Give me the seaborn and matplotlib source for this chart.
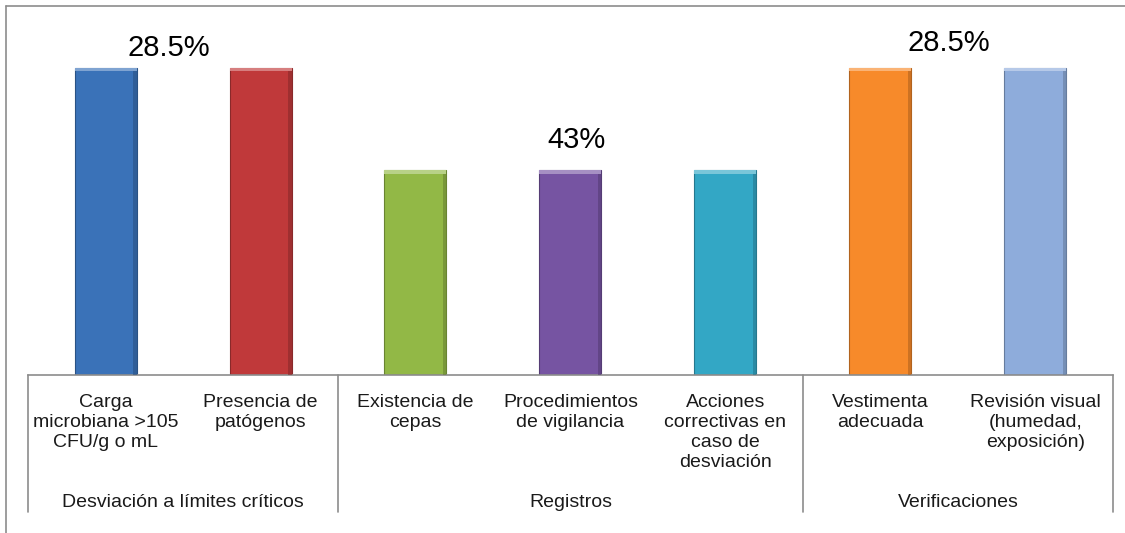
import matplotlib
matplotlib.use("Agg")
import matplotlib.pyplot as plt
import matplotlib.transforms as mtransforms
from matplotlib.patches import Rectangle
import seaborn as sns
import pandas as pd
import numpy as np
import matplotlib.colors as mcolors

categories = [
    "Carga\nmicrobiana >105\nCFU/g o mL",
    "Presencia de\npatógenos",
    "Existencia de\ncepas",
    "Procedimientos\nde vigilancia",
    "Acciones\ncorrectivas en\ncaso de\ndesviación",
    "Vestimenta\nadecuada",
    "Revisión visual\n(humedad,\nexposición)",
]
values = [3, 3, 2, 2, 2, 3, 3]
groups = ["Desviación a límites críticos", "Registros", "Verificaciones"]
group_sizes = [2, 3, 2]
labels_text = ["28.5%", "43%", "28.5%"]
label_x = [0.41, 3.04, 5.44]
label_y = [3.19, 2.29, 3.24]
colors = ["#3a72b8", "#c0393a", "#92b846", "#7654a2", "#33a7c5", "#f78a2a", "#8eacdb"]

sns.set_theme(style="white")
plt.rcParams['font.family'] = ['Liberation Sans', 'DejaVu Sans']

df = pd.DataFrame({"cat": categories, "val": values})

fig = plt.figure(figsize=(11.25, 5.33), dpi=100)
ax = fig.add_axes([0.0249, 0.2964, 0.9644, 0.6725])

sns.barplot(data=df, x="cat", y="val", hue="cat", palette=colors, legend=False,
            width=0.4, ax=ax, saturation=1, edgecolor="none")

ax.set_ylim(0, 3.5)
ax.set_xlim(-0.5, len(categories) - 0.5)

# bevel-like shading on bars
for p, c in zip(ax.patches, colors):
    x0, w, h = p.get_x(), p.get_width(), p.get_height()
    rgb = np.array(mcolors.to_rgb(c))
    dark = tuple(rgb * 0.72)
    light = tuple(np.clip(rgb + (1 - rgb) * 0.35, 0, 1))
    p.set_edgecolor(dark)
    p.set_linewidth(0.8)
    ax.add_patch(Rectangle((x0, h - 0.035), w, 0.035, facecolor=light, edgecolor="none", zorder=3))
    ax.add_patch(Rectangle((x0 + w * 0.94, 0), w * 0.06, h - 0.035, facecolor=dark, edgecolor="none", alpha=0.6, zorder=3))

for s in ["top", "right", "left"]:
    ax.spines[s].set_visible(False)
ax.spines["bottom"].set_color("#8c8c8c")
ax.spines["bottom"].set_linewidth(1.2)
ax.set_yticks([])
ax.set_xlabel("")
ax.set_ylabel("")
ax.tick_params(axis="x", length=0, pad=14)
ax.set_xticks(range(len(categories)))
ax.set_xticklabels(categories, fontsize=14, linespacing=1.22, va="top", color="#1a1a1a")

trans = mtransforms.blended_transform_factory(ax.transData, ax.transAxes)
bounds = np.concatenate([[0], np.cumsum(group_sizes)]) - 0.5
for b in bounds:
    ax.plot([b, b], [0, -0.382], transform=trans, color="#8c8c8c", lw=1.2, clip_on=False)
for g, lo, hi in zip(groups, bounds[:-1], bounds[1:]):
    ax.text((lo + hi) / 2, -0.356, g, transform=trans, ha="center", va="center",
            fontsize=14, color="#1a1a1a")

for t, x, y in zip(labels_text, label_x, label_y):
    ax.text(x, y, t, ha="center", va="center", fontsize=21, color="black")

# outer chart frame (left and top edges visible)
fig.add_artist(plt.Line2D([6 / 1125, 6 / 1125], [0, 1 - 6 / 533], transform=fig.transFigure,
                          color="#8c8c8c", lw=1.2))
fig.add_artist(plt.Line2D([6 / 1125, 1], [1 - 6 / 533, 1 - 6 / 533], transform=fig.transFigure,
                          color="#8c8c8c", lw=1.2))

fig.savefig("out.png", dpi=100)
